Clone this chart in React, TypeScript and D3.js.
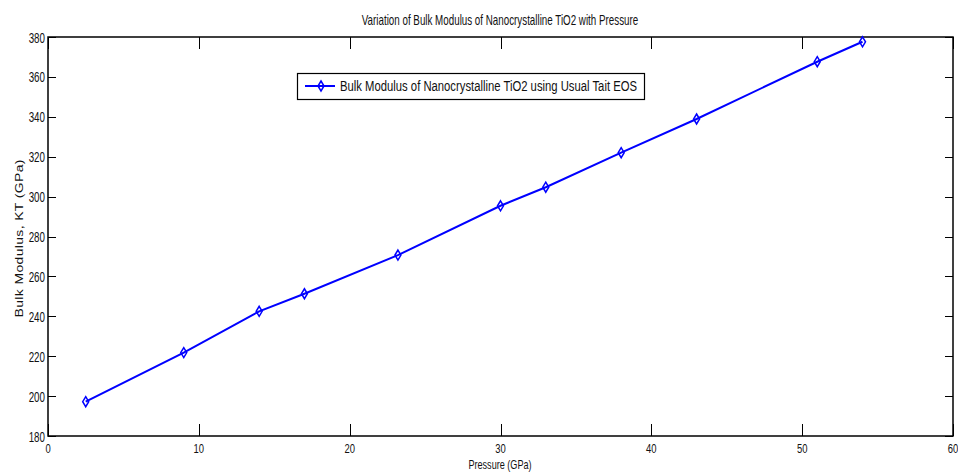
import React, { useRef, useEffect } from 'react';
import * as d3 from 'd3';

// data
const pressure = [2.5, 9, 14, 17, 23.2, 30, 33, 38, 43, 51, 54];
const bulkModulus = [197.2, 221.8, 242.5, 251.3, 270.7, 295.4, 304.7, 322, 338.9, 367.6, 377.6];
const xTicks = [0, 10, 20, 30, 40, 50, 60];
const yTicks = [180, 200, 220, 240, 260, 280, 300, 320, 340, 360, 380];

const seriesName = 'Bulk Modulus of Nanocrystalline TiO2 using Usual Tait EOS';
const title = 'Variation of Bulk Modulus of Nanocrystalline TiO2 with Pressure';

export default function App() {
  const ref = useRef<SVGSVGElement | null>(null);

  useEffect(() => {
    const W = 958;
    const H = 472;
    const m = { left: 48, right: 5, top: 37, bottom: 36 };
    const svg = d3.select(ref.current);
    svg.selectAll('*').remove();

    const font = '"Liberation Sans", Arial, sans-serif';
    // the original figure is squeezed horizontally, so text is narrowed
    const sx = 0.7;
    const x = d3.scaleLinear().domain([0, 60]).range([m.left, W - m.right]);
    const y = d3.scaleLinear().domain([180, 380]).range([H - m.bottom, m.top]);

    svg.append('rect').attr('width', W).attr('height', H).attr('fill', '#fff');

    // ticks (inward, mirrored on top / right)
    const g = svg.append('g').attr('stroke', '#000').attr('stroke-width', 1);
    xTicks.forEach((t) => {
      const px = Math.round(x(t)) + 0.5;
      g.append('line').attr('x1', px).attr('x2', px).attr('y1', y(180)).attr('y2', y(180) - 12);
      g.append('line').attr('x1', px).attr('x2', px).attr('y1', y(380)).attr('y2', y(380) + 12);
    });
    yTicks.forEach((t) => {
      const py = Math.round(y(t)) + 0.5;
      g.append('line').attr('x1', x(0)).attr('x2', x(0) + 8).attr('y1', py).attr('y2', py);
      g.append('line').attr('x1', x(60)).attr('x2', x(60) - 8).attr('y1', py).attr('y2', py);
    });

    // frame
    svg.append('rect')
      .attr('x', x(0)).attr('y', y(380))
      .attr('width', x(60) - x(0)).attr('height', y(180) - y(380))
      .attr('fill', 'none').attr('stroke', '#000').attr('stroke-width', 1.5);

    const label = (tx: number, ty: number, txt: string, anchor: string, size = 14) =>
      svg.append('text')
        .attr('transform', `translate(${tx},${ty}) scale(${sx},1)`)
        .attr('text-anchor', anchor).attr('font-family', font).attr('font-size', size)
        .attr('fill', '#111')
        .text(txt);

    // tick labels
    xTicks.forEach((t) => label(x(t), y(180) + 16.5, String(t), 'middle', 13.5));
    yTicks.forEach((t) => label(x(0) - 3, y(t) + 5.5, String(t), 'end'));

    // axis labels and title
    label(500, 469, 'Pressure (GPa)', 'middle', 13);
    label(500, 25, title, 'middle');
    svg.append('text')
      .attr('transform', `translate(23,${(y(180) + y(380)) / 2 + 2}) rotate(-90) scale(1,0.72)`)
      .attr('text-anchor', 'middle').attr('font-family', font).attr('font-size', 14)
      .attr('fill', '#111')
      .attr('textLength', 158).attr('lengthAdjust', 'spacing')
      .text('Bulk Modulus, KT (GPa)');

    // series line
    const pts = pressure.map((p, i) => [p, bulkModulus[i]] as [number, number]);
    const line = d3.line<[number, number]>().x((d) => x(d[0])).y((d) => y(d[1]));
    svg.append('path')
      .attr('d', line(pts))
      .attr('fill', 'none').attr('stroke', '#0000ff').attr('stroke-width', 2);

    const diamond = (cx: number, cy: number) =>
      `M${cx},${cy - 5}L${cx + 3},${cy}L${cx},${cy + 5}L${cx - 3},${cy}Z`;
    svg.append('g').selectAll('path').data(pts).enter().append('path')
      .attr('d', (d) => diamond(x(d[0]), y(d[1])))
      .attr('fill', 'none').attr('stroke', '#0000ff').attr('stroke-width', 1.5);

    // legend
    const lg = svg.append('g');
    lg.append('rect')
      .attr('x', 297.5).attr('y', 73.5).attr('width', 347).attr('height', 26)
      .attr('fill', '#fff').attr('stroke', '#000').attr('stroke-width', 1.2);
    lg.append('line')
      .attr('x1', 305).attr('x2', 335).attr('y1', 86).attr('y2', 86)
      .attr('stroke', '#0000ff').attr('stroke-width', 2);
    lg.append('path').attr('d', diamond(321, 86))
      .attr('fill', 'none').attr('stroke', '#0000ff').attr('stroke-width', 1.5);
    lg.append('text')
      .attr('x', 340).attr('y', 91)
      .attr('font-family', font).attr('font-size', 14).attr('fill', '#111')
      .attr('textLength', 297).attr('lengthAdjust', 'spacingAndGlyphs')
      .text(seriesName);
  }, []);

  return (
    <div style={{ position: 'absolute', top: 0, left: 0 }}>
      <svg ref={ref} width={958} height={472} />
    </div>
  );
}
